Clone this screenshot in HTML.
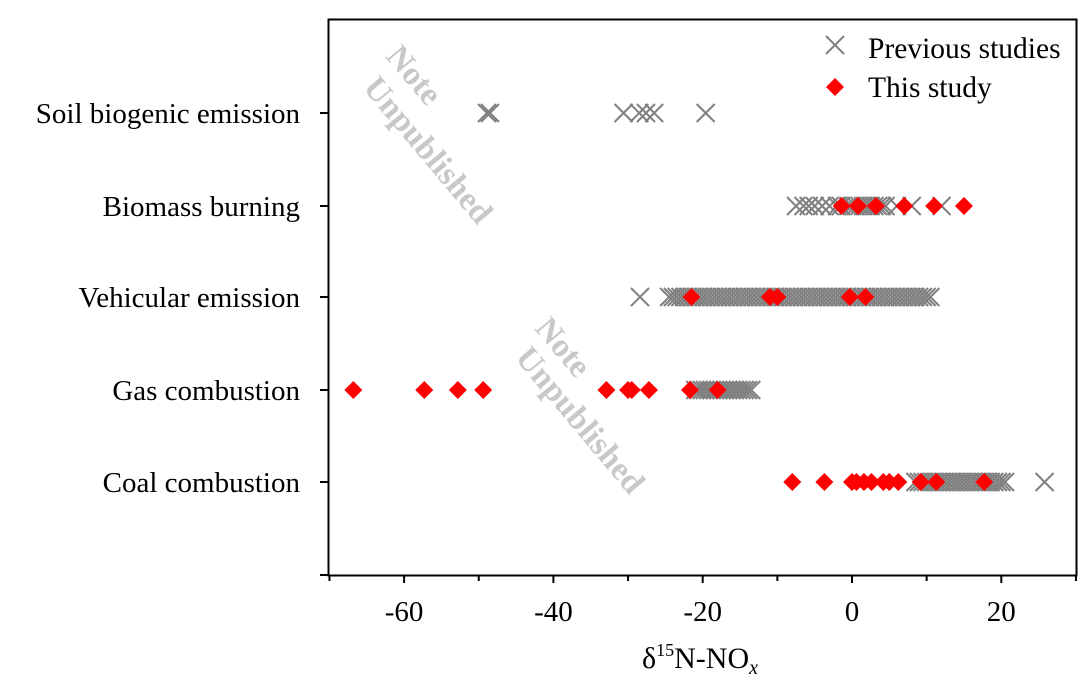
<!DOCTYPE html><html><head><meta charset="utf-8"><style>
body{margin:0;background:#fff}
svg text{font-family:"Liberation Serif",serif}
</style></head><body>
<svg id="s" width="1080" height="682" xmlns="http://www.w3.org/2000/svg">
<rect x="328.5" y="19.5" width="748" height="556" fill="none" stroke="#000" stroke-width="2"/>
<g id="ax"></g>
<g id="pts"></g>
<g fill="#c8c8c8" font-weight="bold" font-size="33" text-anchor="middle">
<text transform="translate(406,82) rotate(50)">Note</text>
<text transform="translate(420,157) rotate(50)">Unpublished</text>
<text transform="translate(555,354) rotate(50)">Note</text>
<text transform="translate(572,427) rotate(50)">Unpublished</text>
</g>
<g font-size="29.5">
<path d="M826 36 l18 18 M844 36 l-18 18" stroke="#808080" stroke-width="2"/>
<text x="868" y="58">Previous studies</text>
<path d="M835 78 l9 9 -9 9 -9 -9z" fill="#f00"/>
<text x="868" y="97">This study</text>
<text x="642" y="668" font-size="30">δ<tspan font-size="18" dy="-12">15</tspan><tspan dy="12">N-NO</tspan><tspan font-style="italic" font-size="20" dy="6">x</tspan></text>
</g>
</svg>
<script>
const X=v=>852+v*7.465;
let a="";
for(let v=-70;v<=30;v+=10){const x=X(v);a+=`<line x1="${x}" y1="575" x2="${x}" y2="${v%20==0?583:581}" stroke="#000" stroke-width="2"/>`;if(v%20==0&&v>-70&&v<30)a+=`<text x="${x}" y="621" font-size="29" text-anchor="middle">${v}</text>`}
const rows=[["Soil biogenic emission",113],["Biomass burning",206],["Vehicular emission",297],["Gas combustion",390],["Coal combustion",482]];
for(const[t,y] of rows){a+=`<line x1="320" y1="${y}" x2="328" y2="${y}" stroke="#000" stroke-width="2"/><text x="300" y="${y+10}" font-size="29" text-anchor="end">${t}</text>`}
a+=`<line x1="320" y1="575" x2="328" y2="575" stroke="#000" stroke-width="2"/>`;
document.getElementById("ax").innerHTML=a;
let p="";
const cross=(v,y)=>{const x=X(v);p+=`<path d="M${x-9} ${y-9}l18 18M${x+9} ${y-9}l-18 18" stroke="#808080" stroke-width="2" fill="none"/>`};
const dia=(v,y)=>{const x=X(v);p+=`<path d="M${x} ${y-9}l9 9-9 9-9-9z" fill="#f00"/>`};
const rng=(a,b,n)=>{let r=[];for(let i=0;i<n;i++)r.push(a+(b-a)*i/(n-1));return r};
[-48.9,-48.5,-30.6,-28.5,-27.6,-26.5,-19.6].forEach(v=>cross(v,113));
[-7.5,-6.5,-5.8,-5,-4,-3,-2,-1.5,-0.5,0,0.5,1,1.5,2,2.5,3,3.5,4,4.5,6,8,12].forEach(v=>cross(v,206));
[-1.4,0.8,3.2,7,11,15].forEach(v=>dia(v,206));
cross(-28.4,297);rng(-24.5,10.5,70).forEach(v=>cross(v,297));
[-21.5,-11,-10,-0.3,1.8].forEach(v=>dia(v,297));
rng(-21,-13.5,18).forEach(v=>cross(v,390));
[-66.8,-57.3,-52.8,-49.4,-32.9,-30,-29.5,-27.2,-21.7,-18].forEach(v=>dia(v,390));
rng(8.5,20.5,26).forEach(v=>cross(v,482));cross(25.8,482);
[-8,-3.7,0,0.6,1.6,2.6,4.2,5,6.2,9.2,11.3,17.7].forEach(v=>dia(v,482));
document.getElementById("pts").innerHTML=p;
</script>
</body></html>
